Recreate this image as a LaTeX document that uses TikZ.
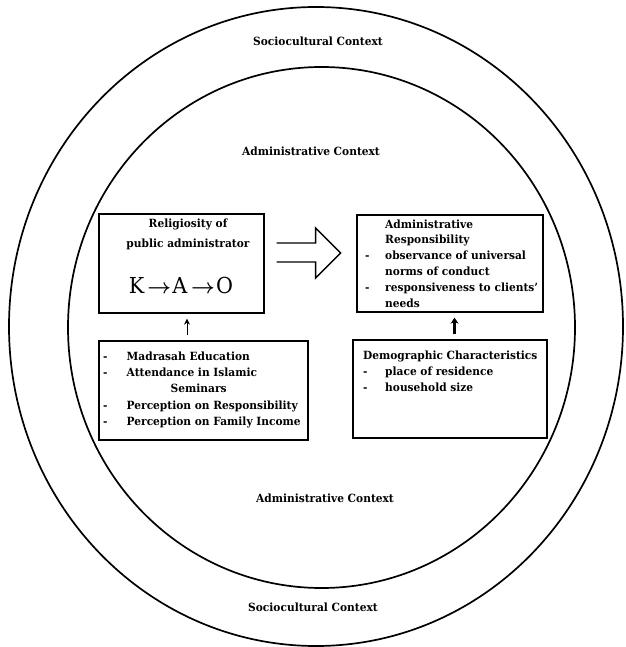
\documentclass[tikz,border=0pt]{standalone}
\usepackage{fontspec}
\setmainfont{DejaVu Serif}[FakeStretch=0.94]
\usepackage{tikz}
\usetikzlibrary{arrows.meta,positioning,calc}

\begin{document}
\begin{tikzpicture}[x=1pt, y=-1pt,
    ring/.style={draw=black, line width=1.7pt},
    frame/.style={rectangle, draw=black, line width=1.3pt, inner sep=0pt},
    txt/.style={font=\fontsize{11.3}{15.9}\selectfont\bfseries, inner sep=0pt, anchor=base west},
    ctx/.style={font=\fontsize{11.3}{13}\selectfont\bfseries, inner sep=0pt, anchor=base},
    lift/.style={-{Stealth[length=6pt,width=6pt]}, line width=1pt, shorten <=5pt, shorten >=5pt},
    hollow/.style={draw=black, line width=1.4pt, line join=miter}
  ]
    \useasboundingbox (0,0) rectangle (625,647);

    % Context rings
    \draw[ring] (316,326.5) ellipse [x radius=307pt, y radius=319.5pt];
    \draw[ring] (321.5,327.5) ellipse [x radius=253.5pt, y radius=260.5pt];

    \node[ctx] (socTop) at (318,46)  {Sociocultural Context};
    \node[ctx] (admTop) at (311,156) {Administrative Context};
    \node[ctx] (admBot) at (325,502) {Administrative Context};
    \node[ctx] (socBot) at (313,611) {Sociocultural Context};

    % Boxes
    \node[frame, minimum width=165pt, minimum height=99pt] (relig)    at (181.5,263.5) {};
    \node[frame, minimum width=186pt, minimum height=97pt] (resp)     at (450,263.5)   {};
    \node[frame, minimum width=209pt, minimum height=99pt] (madrasah) at (203.5,390.5) {};
    \node[frame, minimum width=194pt, minimum height=98pt] (demo)     at (450,389)     {};

    % Box texts
    \node[txt, anchor=base, font=\fontsize{11.3}{19.5}\selectfont\bfseries] (religTxt) at (188,227.5)
      {\begin{tabular}[t]{@{}c@{}}Religiosity of\\ public administrator\end{tabular}};
    \node[anchor=base, inner sep=0pt, font=\fontsize{22}{22}\selectfont] (kao) at (181,293)
      {K\hspace{3pt}{\boldmath$\rightarrow$}\hspace{1pt}A\hspace{4pt}{\boldmath$\rightarrow$}\hspace{1pt}O};
    \node[txt] (respTxt) at (365,228)
      {\begin{tabular}[t]{@{}p{20pt}@{}l@{}}
        & Administrative\\
        & Responsibility\\
       - & observance of universal\\
        & norms of conduct\\
       - & responsiveness to clients'\\
        & needs
      \end{tabular}};
    \node[txt, font=\fontsize{11.3}{16.4}\selectfont\bfseries] (madTxt) at (103,360)
      {\begin{tabular}[t]{@{}p{23.5pt}@{}l@{}}
       - & Madrasah Education\\
       - & Attendance in Islamic\\
        & \hspace{44pt}Seminars\\
       - & Perception on Responsibility\\
       - & Perception on Family Income
      \end{tabular}};
    \node[txt, font=\fontsize{11.3}{16}\selectfont\bfseries] (demoTxt) at (363,359.5)
      {\begin{tabular}[t]{@{}p{22pt}@{}l@{}}
       \multicolumn{2}{@{}l@{}}{Demographic Characteristics}\\
       - & place of residence\\
       - & household size
      \end{tabular}};

    % Arrows
    \draw[hollow] ([xshift=12pt,yshift=20.5pt]relig.east) -- ++(39,0) -- ++(0,-15)
      -- ++(25,25) -- ++(-25,25) -- ++(0,-16) -- ++(-39,0);
    \draw[lift] ([xshift=5.5pt]relig.south |- madrasah.north) -- ([xshift=5.5pt]relig.south);
    \draw[lift, line width=2.2pt, -{Stealth[length=6pt,width=8pt]}]
      ([xshift=4.5pt]resp.south |- demo.north) -- ([xshift=4.5pt]resp.south);
\end{tikzpicture}
\end{document}
